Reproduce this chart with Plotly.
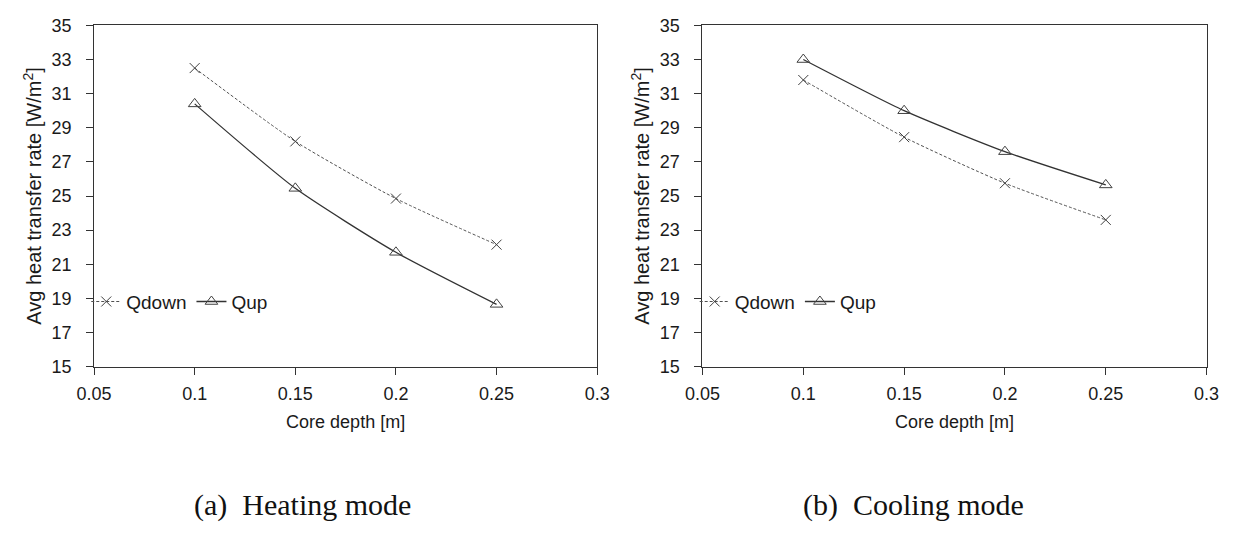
import plotly.graph_objects as go

depth = [0.1, 0.15, 0.2, 0.25]
heat_qdown = [32.5, 28.2, 24.85, 22.15]
heat_qup = [30.4, 25.45, 21.7, 18.65]
cool_qdown = [31.8, 28.45, 25.75, 23.6]
cool_qup = [33.0, 30.0, 27.6, 25.65]
yticks = [15, 17, 19, 21, 23, 25, 27, 29, 31, 33, 35]
xticks = [0.05, 0.1, 0.15, 0.2, 0.25, 0.3]
xtick_labels = ["0.05", "0.1", "0.15", "0.2", "0.25", "0.3"]
captions = ["(a)  Heating mode", "(b)  Cooling mode"]

W, H = 1243, 534
fig = go.Figure()

panels = [(heat_qdown, heat_qup, "x", "y", "legend"), (cool_qdown, cool_qup, "x2", "y2", "legend2")]
for qd, qu, xa, ya, lg in panels:
    fig.add_trace(go.Scatter(x=depth, y=qd, name="Qdown", mode="lines+markers", xaxis=xa, yaxis=ya, legend=lg,
                             line=dict(color="#505050", width=1, dash="3px,2px", shape="spline", smoothing=0.6),
                             marker=dict(symbol="x-thin-open", size=10, color="#404040",
                                         line=dict(width=1, color="#404040"))))
    fig.add_trace(go.Scatter(x=depth, y=qu, name="Qup", mode="lines+markers", xaxis=xa, yaxis=ya, legend=lg,
                             line=dict(color="#333333", width=1.3, shape="spline", smoothing=0.6),
                             marker=dict(symbol="triangle-up-open", size=11, color="#404040",
                                         line=dict(width=1, color="#404040"))))

tickfont = dict(family="Liberation Sans, Arial", size=18, color="#1a1a1a")
axcommon = dict(showline=True, linecolor="#333", linewidth=1, mirror=True, ticks="outside", ticklen=7,
                tickcolor="#333", showgrid=False, zeroline=False, tickfont=tickfont)
d1 = [78 / W, 594 / W]
d2 = [702 / W, 1219 / W]
yd = [1 - 370.5 / H, 1 - 16 / H]
xtitlefont = dict(family="Liberation Sans, Arial", size=18, color="#1a1a1a")
ytitlefont = dict(family="Liberation Sans, Arial", size=20, color="#1a1a1a")
ytitle = "Avg heat transfer rate [W/m<sup>2</sup>]"
legfont = dict(family="Liberation Sans, Arial", size=19, color="#1a1a1a")
xax = dict(range=[0.05, 0.3], tickvals=xticks, ticktext=xtick_labels, ticklabelstandoff=4,
           title=dict(text="Core depth [m]", font=xtitlefont, standoff=12), **axcommon)
yax = dict(range=[15, 35], tickvals=yticks, ticklabelstandoff=11,
           title=dict(text=ytitle, font=ytitlefont, standoff=4), **axcommon)
fig.update_layout(
    width=W, height=H, margin=dict(l=0, r=0, t=0, b=0),
    paper_bgcolor="white", plot_bgcolor="white",
    xaxis=dict(domain=d1, anchor="y", **xax),
    yaxis=dict(domain=yd, anchor="x", **yax),
    xaxis2=dict(domain=d2, anchor="y2", **xax),
    yaxis2=dict(domain=yd, anchor="x2", **yax),
    legend=dict(x=70 / W, y=1 - 303 / H, xanchor="left", yanchor="middle", orientation="h",
                font=legfont, bgcolor="rgba(0,0,0,0)", itemwidth=30, tracegroupgap=0),
    legend2=dict(x=694 / W, y=1 - 303 / H, xanchor="left", yanchor="middle", orientation="h",
                 font=legfont, bgcolor="rgba(0,0,0,0)", itemwidth=30, tracegroupgap=0),
    showlegend=True,
)
for cx, text in zip([292, 918], captions):
    fig.add_annotation(text=text, x=cx / W, y=1 - 514 / H, xref="paper", yref="paper", showarrow=False,
                       xanchor="center", yanchor="middle",
                       font=dict(family="Liberation Serif, Times New Roman", size=30, color="#111"))

fig.write_html("out.html")
